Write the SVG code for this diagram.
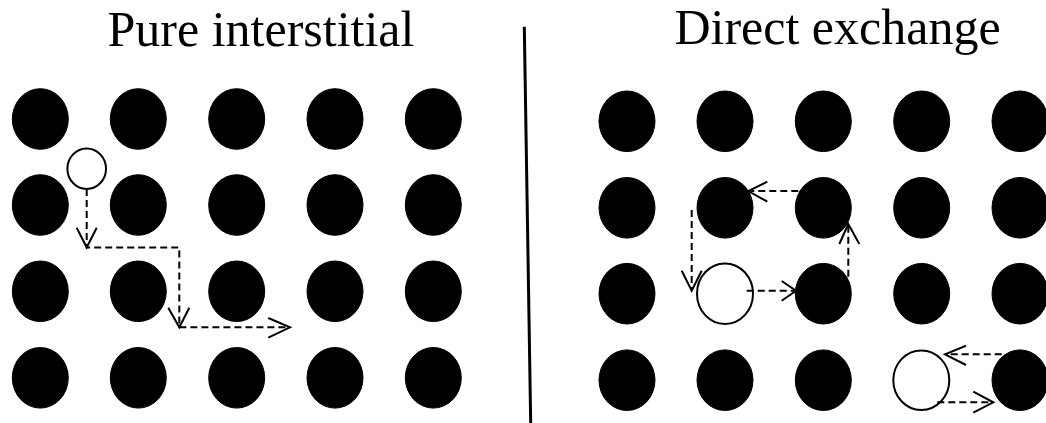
<svg xmlns="http://www.w3.org/2000/svg" width="1046" height="423" viewBox="0 0 1046 423">
<style>
.title{font-family:"Liberation Serif","Times New Roman",serif;font-size:50px;fill:#000;text-anchor:middle}
.atom{fill:#000;stroke:#000;stroke-width:1}
.open{fill:#fff;stroke:#000;stroke-width:2}
.dash{fill:none;stroke:#000;stroke-width:2;stroke-dasharray:7 4}
.head{fill:none;stroke:#000;stroke-width:2;stroke-linejoin:miter}
</style>
<rect width="1046" height="423" fill="#fff"/>
<text class="title" x="261" y="46">Pure interstitial</text>
<text class="title" x="837.5" y="44">Direct exchange</text>
<line x1="524.3" y1="26.7" x2="530.7" y2="423" stroke="#000" stroke-width="3"/>

<g id="left-lattice">
<g id="L11"><ellipse class="atom" cx="40.3" cy="119" rx="28" ry="30.3"/></g>
<g id="L12"><ellipse class="atom" cx="138.3" cy="119" rx="28" ry="30.3"/></g>
<g id="L13"><ellipse class="atom" cx="236.7" cy="119" rx="28" ry="30.3"/></g>
<g id="L14"><ellipse class="atom" cx="335" cy="119" rx="28" ry="30.3"/></g>
<g id="L15"><ellipse class="atom" cx="433.3" cy="119" rx="28" ry="30.3"/></g>
<g id="L21"><ellipse class="atom" cx="40.3" cy="205" rx="28" ry="30.3"/></g>
<g id="L22"><ellipse class="atom" cx="138.3" cy="205" rx="28" ry="30.3"/></g>
<g id="L23"><ellipse class="atom" cx="236.7" cy="205" rx="28" ry="30.3"/></g>
<g id="L24"><ellipse class="atom" cx="335" cy="205" rx="28" ry="30.3"/></g>
<g id="L25"><ellipse class="atom" cx="433.3" cy="205" rx="28" ry="30.3"/></g>
<g id="L31"><ellipse class="atom" cx="40.3" cy="291.3" rx="28" ry="30.3"/></g>
<g id="L32"><ellipse class="atom" cx="138.3" cy="291.3" rx="28" ry="30.3"/></g>
<g id="L33"><ellipse class="atom" cx="236.7" cy="291.3" rx="28" ry="30.3"/></g>
<g id="L34"><ellipse class="atom" cx="335" cy="291.3" rx="28" ry="30.3"/></g>
<g id="L35"><ellipse class="atom" cx="433.3" cy="291.3" rx="28" ry="30.3"/></g>
<g id="L41"><ellipse class="atom" cx="40.3" cy="377.8" rx="28" ry="30.3"/></g>
<g id="L42"><ellipse class="atom" cx="138.3" cy="377.8" rx="28" ry="30.3"/></g>
<g id="L43"><ellipse class="atom" cx="236.7" cy="377.8" rx="28" ry="30.3"/></g>
<g id="L44"><ellipse class="atom" cx="335" cy="377.8" rx="28" ry="30.3"/></g>
<g id="L45"><ellipse class="atom" cx="433.3" cy="377.8" rx="28" ry="30.3"/></g>
<g id="L-interstitial"><ellipse class="open" cx="86.7" cy="168.7" rx="19.3" ry="20.3"/></g>
</g>

<g id="right-lattice">
<g id="R11"><ellipse class="atom" cx="627" cy="121.3" rx="28" ry="30.3"/></g>
<g id="R12"><ellipse class="atom" cx="725" cy="121.3" rx="28" ry="30.3"/></g>
<g id="R13"><ellipse class="atom" cx="823.3" cy="121.3" rx="28" ry="30.3"/></g>
<g id="R14"><ellipse class="atom" cx="921.7" cy="121.3" rx="28" ry="30.3"/></g>
<g id="R15"><ellipse class="atom" cx="1020" cy="121.3" rx="28" ry="30.3"/></g>
<g id="R21"><ellipse class="atom" cx="627" cy="207.8" rx="28" ry="30.3"/></g>
<g id="R22"><ellipse class="atom" cx="725" cy="207.8" rx="28" ry="30.3"/></g>
<g id="R23"><ellipse class="atom" cx="823.3" cy="207.8" rx="28" ry="30.3"/></g>
<g id="R24"><ellipse class="atom" cx="921.7" cy="207.8" rx="28" ry="30.3"/></g>
<g id="R25"><ellipse class="atom" cx="1020" cy="207.8" rx="28" ry="30.3"/></g>
<g id="R31"><ellipse class="atom" cx="627" cy="293.7" rx="28" ry="30.3"/></g>
<g id="R32"><ellipse class="open" cx="725" cy="293.7" rx="28" ry="30.3"/></g>
<g id="R33"><ellipse class="atom" cx="823.3" cy="293.7" rx="28" ry="30.3"/></g>
<g id="R34"><ellipse class="atom" cx="921.7" cy="293.7" rx="28" ry="30.3"/></g>
<g id="R35"><ellipse class="atom" cx="1020" cy="293.7" rx="28" ry="30.3"/></g>
<g id="R41"><ellipse class="atom" cx="627" cy="380.2" rx="28" ry="30.3"/></g>
<g id="R42"><ellipse class="atom" cx="725" cy="380.2" rx="28" ry="30.3"/></g>
<g id="R43"><ellipse class="atom" cx="823.3" cy="380.2" rx="28" ry="30.3"/></g>
<g id="R44"><ellipse class="open" cx="921.3" cy="380.2" rx="28" ry="29.8"/></g>
<g id="R45"><ellipse class="atom" cx="1020" cy="380.2" rx="28" ry="30.3"/></g>
</g>

<g id="connectors">
<path class="dash" d="M86.7,189 V247.5 H179.3 V327.3 H288"/>
<polyline class="head" points="76.7,227.7 86.7,247.5 96.7,227.7"/>
<polyline class="head" points="168.3,307.7 179.3,327.3 189.3,307.7"/>
<polyline class="head" points="268.3,318 290,327.3 268.3,337.7"/>

<path class="dash" d="M746.7,290.7 H794"/>
<polyline class="head" points="781.7,281 796,290.7 781.7,300.7"/>
<path class="dash" d="M848.3,276.7 V226"/>
<polyline class="head" points="839.3,244 848.3,224 859.3,244"/>
<path class="dash" d="M798.3,191 H750"/>
<polyline class="head" points="767.3,181.7 748.3,191 767.3,201.7"/>
<path class="dash" d="M691.7,210 V289"/>
<polyline class="head" points="681.7,270.7 691.7,290.7 701.7,270.7"/>

<path class="dash" d="M1001.7,354.3 H947"/>
<polyline class="head" points="966,345.7 945,354.3 966,365"/>
<path class="dash" d="M937.3,402.3 H991"/>
<polyline class="head" points="973.3,391.7 993.3,402.3 973.3,412.7"/>
</g>
</svg>
